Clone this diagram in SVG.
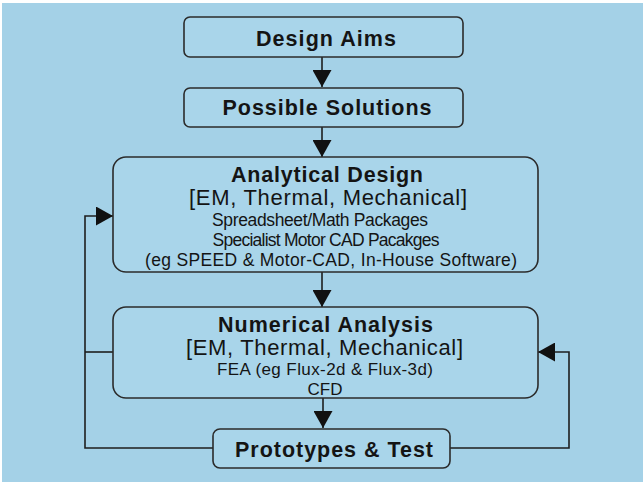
<svg xmlns="http://www.w3.org/2000/svg" width="643" height="482" viewBox="0 0 643 482">
  <defs>
    <style>
      .box { fill: #a9d5ea; stroke: #2b2b2b; stroke-width: 1.6; }
      .wire { fill: none; stroke: #1e1e1e; stroke-width: 1.6; }
      .t { font-family: "Liberation Sans", Arial, sans-serif; fill: #141414; text-anchor: middle; }
      .title { font-size: 21.5px; font-weight: bold; }
      .sub { font-size: 22px; }
      .small { font-size: 17.5px; }
      .tiny { font-size: 17px; }
    </style>
    <marker id="arrow" markerUnits="userSpaceOnUse" markerWidth="18" markerHeight="19" viewBox="0 0 17 19" refX="17" refY="9.5" orient="auto">
      <path d="M0,0 L17,9.5 L0,19 Z" fill="#111"/>
    </marker>
  </defs>

  <!-- page -->
  <rect x="0" y="0" width="643" height="482" fill="#ffffff"/>
  <rect x="2" y="3" width="641" height="479" fill="#a4d1e7"/>

  <!-- connectors -->
  <g id="connectors">
    <line class="wire" x1="322" y1="57" x2="322" y2="87" marker-end="url(#arrow)"/>
    <line class="wire" x1="322" y1="127" x2="322" y2="157" marker-end="url(#arrow)"/>
    <line class="wire" x1="322" y1="272" x2="322" y2="307" marker-end="url(#arrow)"/>
    <line class="wire" x1="323" y1="398" x2="323" y2="428" marker-end="url(#arrow)"/>
    <!-- feedback to analytical design -->
    <polyline class="wire" points="213,448 85,448 85,216 113,216" marker-end="url(#arrow)"/>
    <line class="wire" x1="85" y1="352" x2="113" y2="352"/>
    <!-- feedback to numerical analysis -->
    <polyline class="wire" points="450,448 569,448 569,352 538,352" marker-end="url(#arrow)"/>
  </g>

  <g id="design-aims">
    <rect class="box" x="184" y="17" width="279" height="40" rx="6"/>
    <text class="t title" x="326" y="46" textLength="140" lengthAdjust="spacing">Design Aims</text>
  </g>

  <g id="possible-solutions">
    <rect class="box" x="184" y="88" width="279" height="39" rx="6"/>
    <text class="t title" x="327" y="115" textLength="209" lengthAdjust="spacing">Possible Solutions</text>
  </g>

  <g id="analytical-design">
    <rect class="box" x="113" y="157" width="425" height="115" rx="13"/>
    <text class="t title" x="327" y="182" textLength="192" lengthAdjust="spacing">Analytical Design</text>
    <text class="t sub" x="328" y="205" textLength="278" lengthAdjust="spacing">[EM, Thermal, Mechanical]</text>
    <text class="t small" x="320" y="226" textLength="216" lengthAdjust="spacing">Spreadsheet/Math Packages</text>
    <text class="t small" x="326" y="246" textLength="227" lengthAdjust="spacing">Specialist Motor CAD Pacakges</text>
    <text class="t small" x="331" y="266" textLength="372" lengthAdjust="spacing">(eg SPEED &amp; Motor-CAD, In-House Software)</text>
  </g>

  <g id="numerical-analysis">
    <rect class="box" x="113" y="307" width="425" height="91" rx="13"/>
    <text class="t title" x="325.5" y="332" textLength="215" lengthAdjust="spacing">Numerical Analysis</text>
    <text class="t sub" x="324.5" y="355" textLength="277" lengthAdjust="spacing">[EM, Thermal, Mechanical]</text>
    <text class="t tiny" x="325" y="375" textLength="216" lengthAdjust="spacing">FEA (eg Flux-2d &amp; Flux-3d)</text>
    <text class="t tiny" x="325" y="395">CFD</text>
  </g>

  <g id="prototypes-test">
    <rect class="box" x="213" y="429" width="237" height="39" rx="7"/>
    <text class="t title" x="334" y="457" textLength="198" lengthAdjust="spacing">Prototypes &amp; Test</text>
  </g>
</svg>
